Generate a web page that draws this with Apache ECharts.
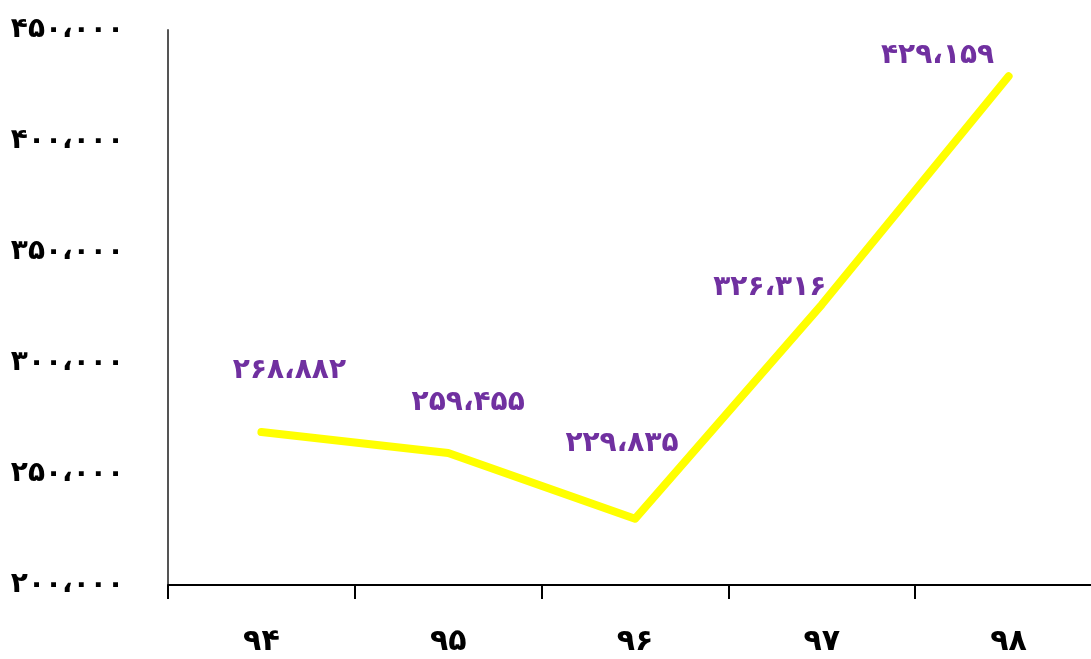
<!DOCTYPE html>
<html>
<head>
<meta charset="utf-8">
<script src="https://cdn.jsdelivr.net/npm/echarts@6/dist/echarts.min.js"></script>
<style>html,body{margin:0;padding:0;background:#fff;overflow:hidden;}#c{width:1102px;height:659px;}</style>
</head>
<body>
<div id="c"></div>
<script>
var categories = ['94', '95', '96', '97', '98'];
var values = [268882, 259455, 229835, 326316, 429159];
var yMin = 200000, yMax = 450000, yStep = 50000;

var labelOffsets = [[28, -61], [20, -50], [-13, -75], [-52, -17], [-71, -21]];

function fa(s) {
  return String(s).replace(/[0-9]/g, function (d) { return String.fromCharCode(0x06F0 + (+d)); });
}
function faNum(v) {
  var s = Math.round(v).toString().replace(/\B(?=(\d{3})+(?!\d))/g, '\u060C');
  return fa(s);
}

var chart = echarts.init(document.getElementById('c'));
chart.setOption({
  animation: false,
  grid: { left: 168, top: 30, bottom: 74, right: 0, containLabel: false },
  xAxis: {
    type: 'category',
    data: categories,
    boundaryGap: true,
    axisLine: { lineStyle: { color: '#000', width: 2 } },
    axisTick: { show: true, length: 14, lineStyle: { color: '#000', width: 2 } },
    axisLabel: {
      formatter: function (v) { return fa(v); },
      color: '#000', fontFamily: 'DejaVu Sans', fontWeight: 'bold', fontSize: 30, margin: 42
    },
    splitLine: { show: false }
  },
  yAxis: {
    type: 'value',
    min: yMin, max: yMax, interval: yStep,
    axisLine: { show: true, lineStyle: { color: '#555', width: 2 } },
    axisTick: { show: false },
    splitLine: { show: false },
    axisLabel: {
      formatter: function (v) { return faNum(v); },
      color: '#000', fontFamily: 'DejaVu Sans', fontWeight: 'bold', fontSize: 28, margin: 44,
      padding: [0, 0, 14, 0]
    }
  },
  series: [{
    type: 'line',
    data: values.map(function (v, i) {
      return { value: v, label: { offset: labelOffsets[i] } };
    }),
    showSymbol: true,
    symbol: 'circle',
    symbolSize: 1,
    itemStyle: { color: 'rgba(0,0,0,0)' },
    lineStyle: { color: '#FFFF00', width: 8, cap: 'round', join: 'round' },
    label: {
      show: true,
      position: 'inside',
      formatter: function (p) { return faNum(p.value); },
      color: '#7030A0', fontFamily: 'DejaVu Sans', fontWeight: 'bold', fontSize: 28
    }
  }]
});
</script>
</body>
</html>
